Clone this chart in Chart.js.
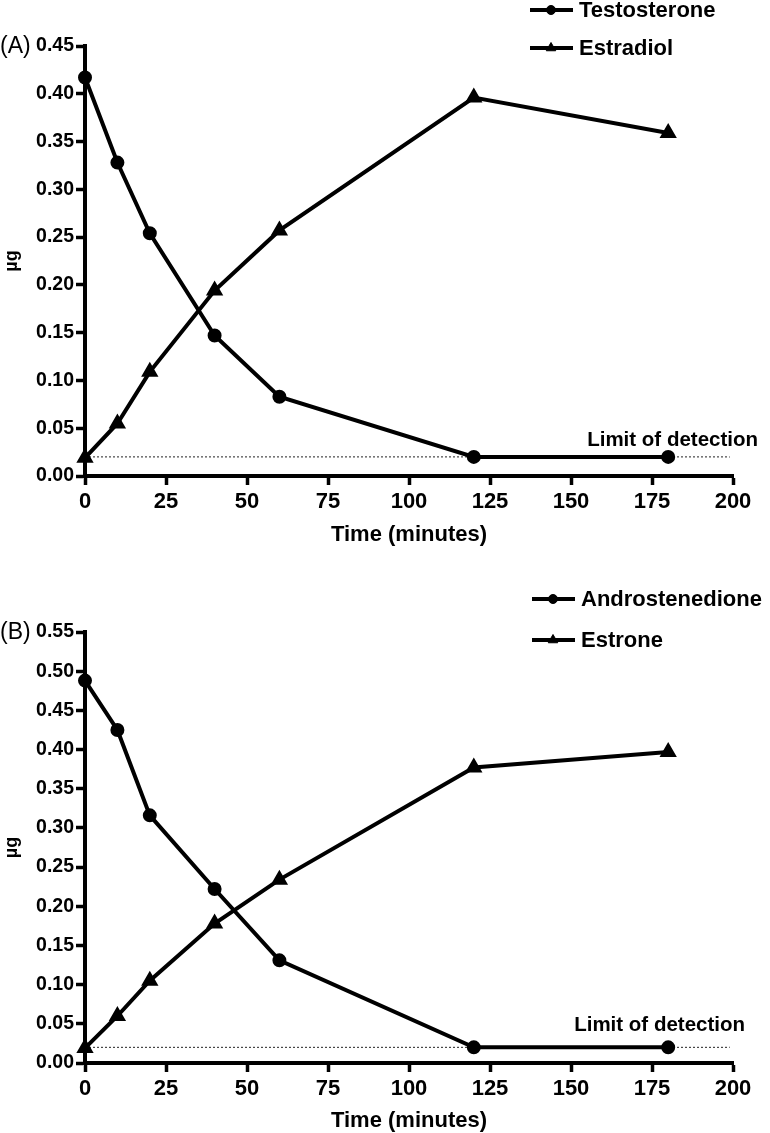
<!DOCTYPE html>
<html>
<head>
<meta charset="utf-8">
<script src="https://cdn.jsdelivr.net/npm/chart.js@4.4.0/dist/chart.umd.min.js"></script>
<style>
  body { margin: 0; background: #fff; }
  canvas { display: block; }
</style>
</head>
<body>
<canvas id="canvasA" width="770" height="560"></canvas>
<canvas id="canvasB" width="770" height="573"></canvas>
<script>
// sampling times (minutes)
var times = [0, 10, 20, 40, 60, 120, 180];

// panel A
var testosterone = [0.417, 0.328, 0.254, 0.147, 0.083, 0.02, 0.02];
var estradiol = [0.019, 0.055, 0.109, 0.194, 0.257, 0.396, 0.359];

// panel B
var androstenedione = [0.488, 0.425, 0.316, 0.222, 0.131, 0.02, 0.02];
var estrone = [0.019, 0.060, 0.105, 0.178, 0.234, 0.377, 0.397];

// limit of detection (dotted line)
var limitValue = 0.02;
var limitX = [0, 199];

// ticks
var xTicks = [0, 25, 50, 75, 100, 125, 150, 175, 200];
var yTicksA = [0, 0.05, 0.10, 0.15, 0.20, 0.25, 0.30, 0.35, 0.40, 0.45];
var yTicksB = [0, 0.05, 0.10, 0.15, 0.20, 0.25, 0.30, 0.35, 0.40, 0.45, 0.50, 0.55];

var FONT = '"Liberation Sans", Arial, Helvetica, sans-serif';
var NARROW = '"Liberation Sans Narrow", "Arial Narrow", "Liberation Sans", sans-serif';

function points(ys) {
    return times.map(function(t, i) { return {x: t, y: ys[i]}; });
}

// legend, panel letter and the "Limit of detection" note
var extras = {
    id: 'extras',
    afterDraw: function(chart) {
        var o = chart.options.plugins.extras;
        var ctx = chart.ctx;
        var xs = chart.scales.x, ys = chart.scales.y;
        ctx.save();
        ctx.fillStyle = '#000';
        ctx.strokeStyle = '#000';
        ctx.textBaseline = 'middle';

        ctx.font = '23px ' + FONT;
        ctx.textAlign = 'left';
        ctx.fillText(o.panel, 0, ys.getPixelForValue(ys.max) + 1);

        ctx.font = 'bold 20.5px ' + FONT;
        ctx.textAlign = 'right';
        ctx.fillText('Limit of detection', xs.getPixelForValue(xs.max) + o.limitDx,
            ys.getPixelForValue(limitValue) + o.limitDy);

        ctx.font = 'bold 22px ' + FONT;
        ctx.textAlign = 'left';
        var row = 0;
        chart.data.datasets.forEach(function(ds) {
            if (!ds.label) return;
            var ly = o.legendY[row++];
            ctx.lineWidth = 4;
            ctx.beginPath();
            ctx.moveTo(o.legendX, ly);
            ctx.lineTo(o.legendX + 43, ly);
            ctx.stroke();
            ctx.lineWidth = 1;
            Chart.helpers.drawPoint(ctx, {pointStyle: ds.pointStyle, radius: ds.pointRadius - 0.5, borderWidth: 1, rotation: 0}, o.legendX + 21, ly);
            ctx.fillText(ds.label, o.legendX + 49, ly + 1);
        });
        ctx.restore();
    }
};

function makeChart(id, labels, series, yTicks, lay) {
    var datasets = [
        {
            label: labels[0], data: points(series[0]), pointStyle: 'circle', pointRadius: 5,
            borderColor: '#000', backgroundColor: '#000', borderWidth: 4, order: 1, clip: false
        },
        {
            label: labels[1], data: points(series[1]), pointStyle: 'triangle', pointRadius: 6,
            borderColor: '#000', backgroundColor: '#000', borderWidth: 4, order: 1, clip: false
        },
        {
            label: '', data: limitX.map(function(x) { return {x: x, y: limitValue}; }),
            pointRadius: 0, borderColor: '#222', borderWidth: 1, borderDash: [2, 2], order: 3
        }
    ];
    return new Chart(document.getElementById(id), {
        type: 'line',
        data: { datasets: datasets },
        options: {
            responsive: false,
            animation: false,
            events: [],
            layout: { padding: { top: lay.top, right: 37, left: 0, bottom: 0 } },
            elements: { line: { tension: 0 }, point: { borderWidth: 1, hoverRadius: 0 } },
            scales: {
                x: {
                    type: 'linear', min: 0, max: 200,
                    afterFit: function(s) { s.height = lay.xHeight; },
                    afterBuildTicks: function(s) { s.ticks = xTicks.map(function(v) { return {value: v}; }); },
                    border: { display: true, color: '#000', width: 4 },
                    grid: { drawOnChartArea: false, drawTicks: true, tickLength: 9, tickWidth: 3.5, tickColor: '#000' },
                    ticks: { color: '#000', autoSkip: false, maxRotation: 0, padding: 4,
                             font: { family: NARROW, size: 22, weight: 'bold' } },
                    title: { display: true, text: 'Time (minutes)', color: '#000',
                             font: { family: FONT, size: 22, weight: 'bold', lineHeight: 1 },
                             padding: { top: 0, bottom: lay.titlePad } }
                },
                y: {
                    type: 'linear', min: 0, max: yTicks[yTicks.length - 1],
                    afterFit: function(s) { s.width = 85; },
                    afterBuildTicks: function(s) { s.ticks = yTicks.map(function(v) { return {value: v}; }); },
                    border: { display: true, color: '#000', width: 4 },
                    grid: { drawOnChartArea: false, drawTicks: true, tickLength: 9, tickWidth: 3.5, tickColor: '#000' },
                    ticks: { color: '#000', padding: 2,
                             callback: function(v) { return v.toFixed(2); },
                             font: { family: FONT, size: 19.5, weight: 'bold' } },
                    title: { display: true, text: 'µg', color: '#000',
                             font: { family: FONT, size: 18, weight: 'bold', lineHeight: 1.2 },
                             padding: { top: 1, bottom: 0 } }
                }
            },
            plugins: {
                legend: { display: false },
                tooltip: { enabled: false },
                extras: lay.extras
            }
        },
        plugins: [extras]
    });
}

makeChart('canvasA', ['Testosterone', 'Estradiol'], [testosterone, estradiol], yTicksA,
    { top: 46, xHeight: 84, titlePad: 14,
      extras: { panel: '(A)', limitDx: 25, limitDy: -17, legendX: 530, legendY: [10, 48] } });

makeChart('canvasB', ['Androstenedione', 'Estrone'], [androstenedione, estrone], yTicksB,
    { top: 72, xHeight: 70, titlePad: 1,
      extras: { panel: '(B)', limitDx: 12, limitDy: -22, legendX: 532, legendY: [39, 80] } });
</script>
</body>
</html>
